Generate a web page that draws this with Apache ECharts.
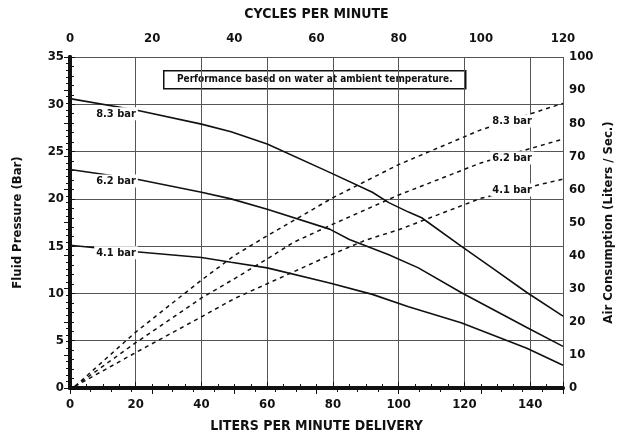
<!DOCTYPE html>
<html>
<head>
<meta charset="utf-8">
<script src="https://cdn.jsdelivr.net/npm/echarts@6/dist/echarts.min.js"></script>
<style>
  html, body { margin: 0; padding: 0; background: #fff; }
  #main { width: 621px; height: 435px; }
</style>
</head>
<body>
<div id="main"></div>
<script>
// fluid pressure (bar) against liters per minute, solid curves
var fluid83 = [[0, 30.6], [20, 29.4], [40, 27.9], [49, 27.1], [60, 25.8], [79, 22.8], [92, 20.7], [97, 19.6], [103, 18.6], [107, 18.0], [119, 15.0], [128, 12.8], [139, 10.1], [150, 7.6]];
var fluid62 = [[0, 23.1], [20, 22.1], [40, 20.7], [49, 20.0], [60, 18.9], [79, 16.8], [85, 15.7], [97, 14.1], [106, 12.7], [119, 10.1], [139, 6.4], [150, 4.4]];
var fluid41 = [[0, 15.1], [20, 14.4], [40, 13.8], [49, 13.3], [60, 12.7], [79, 11.1], [92, 9.9], [103, 8.6], [119, 6.9], [139, 4.2], [150, 2.4]];

// air consumption (liters / sec) against liters per minute, dashed curves
var air83 = [[1.5, 0.5], [20, 16.9], [40, 32.6], [50, 40], [60, 46], [80, 57.5], [100, 67.5], [125, 78], [150, 86]];
var air62 = [[1.5, 0.5], [20, 13.7], [40, 27.2], [50, 33], [60, 39], [68, 44], [80, 49.5], [100, 58.3], [125, 68], [150, 75.2]];
var air41 = [[1.5, 0.5], [20, 10.7], [40, 21.5], [50, 27], [60, 31.5], [80, 40.5], [90, 44.7], [100, 47.8], [125, 57.3], [150, 63.1]];

// label anchors: [text, lpm, value]
var fluidLabels = [['8.3 bar', 14, 29.0], ['6.2 bar', 14, 21.9], ['4.1 bar', 14, 14.3]];
var airLabels = [['8.3 bar', 134.5, 80.7], ['6.2 bar', 134.5, 69.5], ['4.1 bar', 134.5, 59.8]];

var noteText = 'Performance based on water at ambient temperature.';

var FONT = '"DejaVu Sans Condensed", "Liberation Sans", Arial, sans-serif';
var ink = '#111';

var chart = echarts.init(document.getElementById('main'), null, { renderer: 'canvas' });

function tickLabel(m) {
  return { color: ink, fontFamily: FONT, fontWeight: 'bold', fontSize: 13, margin: m, showMaxLabel: false };
}

function labelPoint(item) {
  return {
    coord: [item[1], item[2]],
    value: item[0],
    symbol: 'circle',
    symbolSize: 1,
    itemStyle: { color: 'rgba(0,0,0,0)' },
    label: {
      show: true, position: 'inside', formatter: item[0],
      color: ink, fontFamily: FONT, fontWeight: 'bold', fontSize: 11,
      backgroundColor: '#fff', padding: [1, 2]
    }
  };
}

function solid(data, lab) {
  return {
    type: 'line', data: data, xAxisIndex: 0, yAxisIndex: 0,
    showSymbol: false, silent: true,
    lineStyle: { color: ink, width: 1.6 },
    markPoint: { silent: true, data: [labelPoint(lab)] },
    z: 3
  };
}

function dashed(data, lab) {
  return {
    type: 'line', data: data, xAxisIndex: 0, yAxisIndex: 1,
    showSymbol: false, silent: true,
    lineStyle: { color: ink, width: 1.5, type: [4, 4] },
    markPoint: { silent: true, data: [labelPoint(lab)] },
    z: 3
  };
}

chart.setOption({
  backgroundColor: '#fff',
  animation: false,
  grid: { left: 70, right: 58, top: 57, bottom: 47, outerBoundsMode: 'none', containLabel: false },
  xAxis: [{
    type: 'value', position: 'bottom', min: 0, max: 150, interval: 20,
    name: 'LITERS PER MINUTE DELIVERY', nameLocation: 'middle', nameGap: 31,
    nameTextStyle: { color: ink, fontFamily: FONT, fontWeight: 'bold', fontSize: 14 },
    axisLine: { show: true, lineStyle: { color: ink, width: 4 } },
    axisTick: { show: true, inside: true, length: 6, lineStyle: { color: ink, width: 1 } },
    minorTick: { show: true, splitNumber: 4, length: 4, lineStyle: { color: ink, width: 1 } },
    axisLabel: tickLabel(10),
    splitLine: { show: true, lineStyle: { color: '#555', width: 1 } }
  }, {
    type: 'value', position: 'top', min: 0, max: 120, interval: 20,
    name: 'CYCLES PER MINUTE', nameLocation: 'middle', nameGap: 36,
    nameTextStyle: { color: ink, fontFamily: FONT, fontWeight: 'bold', fontSize: 14 },
    axisLine: { show: true, lineStyle: { color: ink, width: 3 } },
    axisTick: { show: true, inside: true, length: 6, lineStyle: { color: ink, width: 1 } },
    minorTick: { show: true, splitNumber: 4, length: 4, lineStyle: { color: ink, width: 1 } },
    axisLabel: Object.assign(tickLabel(12), { showMaxLabel: true }),
    splitLine: { show: false }
  }],
  yAxis: [{
    type: 'value', position: 'left', min: 0, max: 35, interval: 5,
    name: 'Fluid Pressure (Bar)', nameLocation: 'middle', nameGap: 46, nameMoveOverlap: false,
    nameTextStyle: { color: ink, fontFamily: FONT, fontWeight: 'bold', fontSize: 13 },
    axisLine: { show: true, lineStyle: { color: ink, width: 4 } },
    axisTick: { show: true, inside: true, length: 5, lineStyle: { color: ink, width: 1 } },
    minorTick: { show: true, splitNumber: 5, length: 4, lineStyle: { color: ink, width: 1 } },
    axisLabel: Object.assign(tickLabel(6), { showMaxLabel: true }),
    splitLine: { show: true, lineStyle: { color: '#555', width: 1 } }
  }, {
    type: 'value', position: 'right', min: 0, max: 100, interval: 10,
    name: 'Air Consumption (Liters / Sec.)', nameLocation: 'middle', nameGap: 39, nameMoveOverlap: false,
    nameTextStyle: { color: ink, fontFamily: FONT, fontWeight: 'bold', fontSize: 13 },
    axisLine: { show: true, lineStyle: { color: ink, width: 4 } },
    axisTick: { show: true, inside: true, length: 6, lineStyle: { color: ink, width: 1 } },
    minorTick: { show: true, splitNumber: 5, length: 4, lineStyle: { color: ink, width: 1 } },
    axisLabel: Object.assign(tickLabel(6), { showMaxLabel: true }),
    splitLine: { show: false }
  }],
  graphic: [{
    type: 'group', left: 163, top: 70, z: 10,
    children: [{
      type: 'rect', shape: { x: 0, y: 0, width: 302, height: 18 },
      style: { fill: '#fff', stroke: ink, lineWidth: 1.5 }
    }, {
      type: 'text', x: 151, y: 9,
      style: {
        text: noteText, fill: ink, font: 'bold 10px ' + FONT,
        textAlign: 'center', textVerticalAlign: 'middle'
      }
    }]
  }],
  series: [
    solid(fluid83, fluidLabels[0]),
    solid(fluid62, fluidLabels[1]),
    solid(fluid41, fluidLabels[2]),
    dashed(air83, airLabels[0]),
    dashed(air62, airLabels[1]),
    dashed(air41, airLabels[2])
  ]
});
</script>
</body>
</html>
